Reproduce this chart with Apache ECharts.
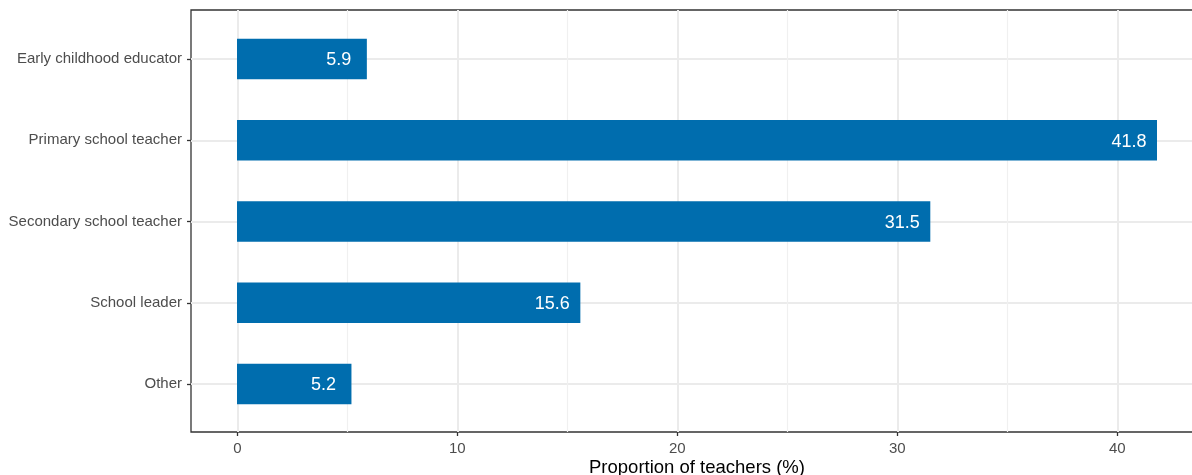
<!DOCTYPE html>
<html>
<head>
<meta charset="utf-8">
<script src="https://cdn.jsdelivr.net/npm/echarts@6/dist/echarts.min.js"></script>
<style>
html,body{margin:0;padding:0;background:#fff;}
#chart{width:1192px;height:475px;}
</style>
</head>
<body>
<div id="chart"></div>
<script>
const categories = ["Early childhood educator", "Primary school teacher", "Secondary school teacher", "School leader", "Other"];
const values = [5.9, 41.8, 31.5, 15.6, 5.2];
const xTicks = [0, 10, 20, 30, 40];
const xTitle = "Proportion of teachers (%)";

const FONT = '"Liberation Sans", Arial, Helvetica, sans-serif';
const xMin = -2.09, xMax = 43.89;

const chart = echarts.init(document.getElementById('chart'));
chart.setOption({
  animation: false,
  textStyle: { fontFamily: FONT },
  grid: [
    { left: 191, top: 10, width: 1012, height: 422, show: true, borderColor: '#333333', borderWidth: 1.3, backgroundColor: 'transparent', outerBoundsMode: 'none', containLabel: false },
    { left: 237.3, top: 10, width: 880, height: 422, outerBoundsMode: 'none', containLabel: false },
    { left: 191, top: 59, width: 1012, height: 325, outerBoundsMode: 'none', containLabel: false }
  ],
  xAxis: [
    { gridIndex: 0, type: 'value', min: xMin, max: xMax,
      axisLine: { show: false }, axisTick: { show: false }, axisLabel: { show: false }, splitLine: { show: false },
      name: xTitle, nameLocation: 'middle', nameGap: 26,
      nameTextStyle: { fontSize: 18.5, color: '#000', fontFamily: FONT } },
    { gridIndex: 1, type: 'value', min: xTicks[0], max: xTicks[xTicks.length - 1], interval: 10,
      axisLine: { show: false },
      axisTick: { show: true, length: 4, lineStyle: { color: '#333333', width: 1.3 } },
      axisLabel: { show: true, color: '#4d4d4d', fontSize: 15, margin: 9, fontFamily: FONT },
      splitLine: { show: true, lineStyle: { color: '#ebebeb', width: 2 } },
      minorTick: { show: false, splitNumber: 2 },
      minorSplitLine: { show: true, lineStyle: { color: '#f0f0f0', width: 1.2 } } },
    { gridIndex: 2, type: 'value', min: xMin, max: xMax, show: false }
  ],
  yAxis: [
    { gridIndex: 0, type: 'value', show: false },
    { gridIndex: 1, type: 'value', show: false },
    { gridIndex: 2, type: 'category', data: categories, inverse: true, boundaryGap: false,
      axisLine: { show: false, onZero: false },
      axisTick: { show: true, length: 4, lineStyle: { color: '#333333', width: 1.3 } },
      axisLabel: { color: '#4d4d4d', fontSize: 15, margin: 9, fontFamily: FONT, padding: [3, 0, 0, 0] },
      splitLine: { show: true, lineStyle: { color: '#ebebeb', width: 2 } } }
  ],
  series: [{
    type: 'bar',
    xAxisIndex: 2, yAxisIndex: 2,
    data: values,
    barWidth: 40.6,
    clip: false,
    itemStyle: { color: '#006DAE' },
    label: {
      show: true, position: 'insideRight', distance: 28, align: 'center', offset: [0, 1.5],
      color: '#ffffff', fontSize: 18, fontFamily: FONT,
      formatter: p => p.value.toFixed(1)
    }
  }]
});
</script>
</body>
</html>
